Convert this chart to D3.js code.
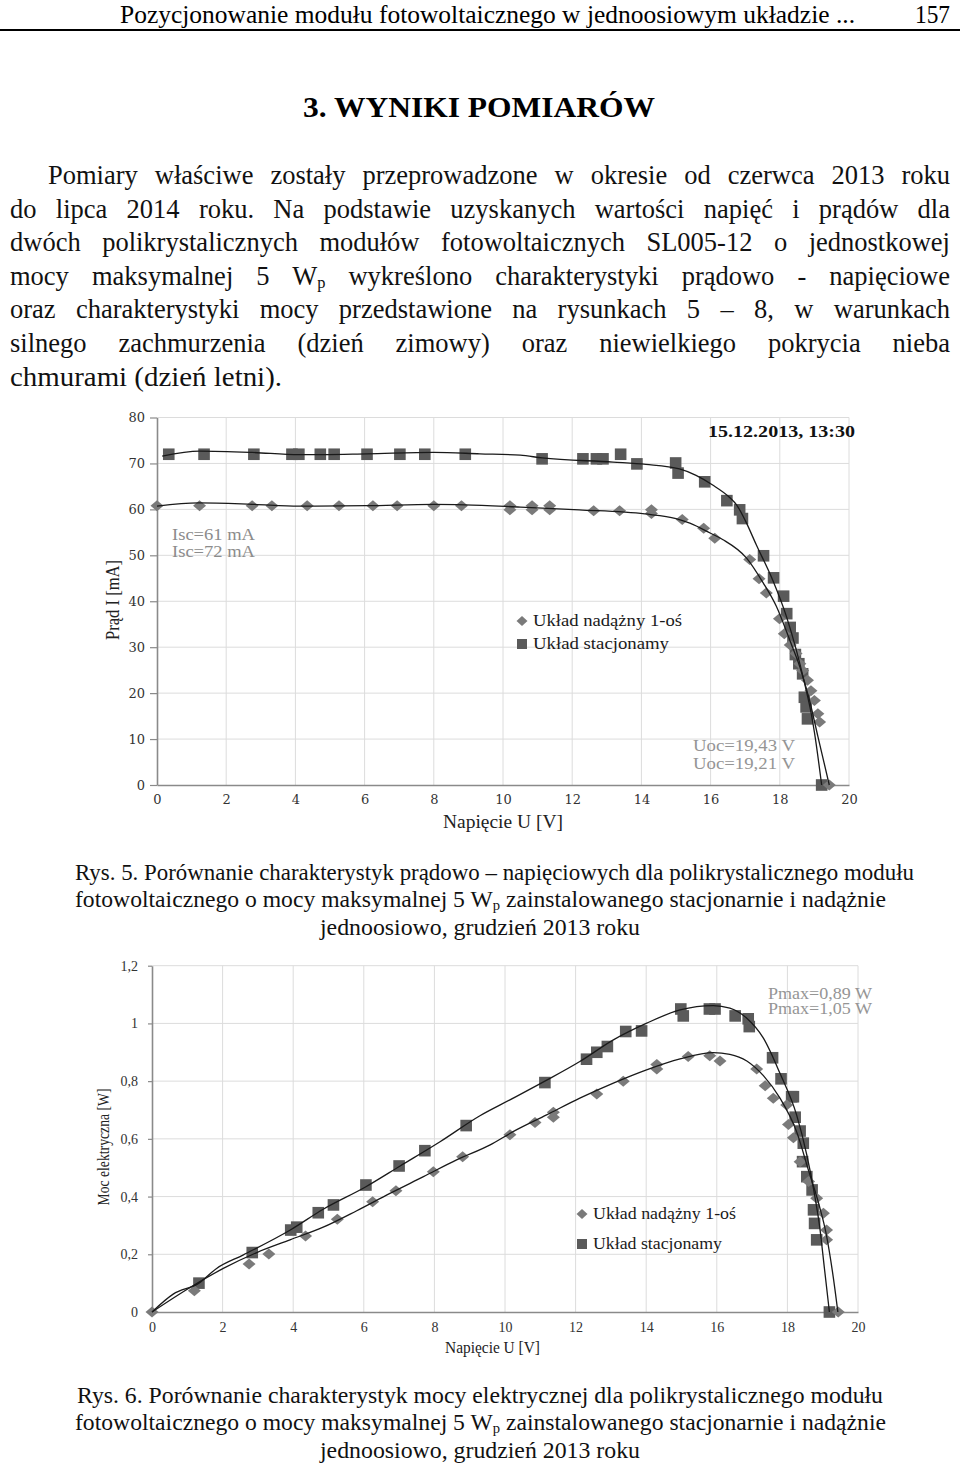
<!DOCTYPE html>
<html><head><meta charset="utf-8">
<script src="https://cdn.jsdelivr.net/npm/d3@7"></script>
<style>body{margin:0;background:#fff} svg{display:block}</style>
</head><body>
<svg id="page" width="960" height="1465"></svg>
<script>
// ---------- DATA ----------
// Rys. 5: current-voltage (U [V], I [mA])
const ivTracking = [[0,60.8],[1.23,60.8],[2.75,60.8],[3.32,60.8],[4.34,60.8],[5.26,60.8],[6.24,60.8],[6.94,60.8],[8.0,60.8],[8.8,60.8],[10.2,60.8],[10.2,59.9],[10.84,60.8],[10.84,59.9],[11.35,60.8],[11.35,59.9],[12.62,59.7],[13.37,59.7],[14.29,59.9],[14.29,59.1],[15.18,57.8],[15.8,55.9],[16.12,53.7],[17.13,49.1],[17.4,44.9],[17.61,41.8],[17.99,36.2],[18.13,32.9],[18.3,30.5],[18.47,28.6],[18.58,26.4],[18.66,24.9],[18.8,22.8],[18.9,20.5],[19.0,18.4],[19.1,15.5],[19.15,13.7],[19.43,0]];
const ivStationary = [[0.34,72.0],[1.36,72.0],[2.8,72.0],[3.9,72.0],[4.1,72.0],[4.72,72.0],[5.12,72.0],[6.07,72.0],[7.02,72.0],[7.74,72.0],[8.91,72.0],[11.13,71.0],[12.31,71.0],[12.7,71.0],[12.89,71.0],[13.4,72.0],[13.87,69.9],[14.99,70.1],[15.06,67.9],[15.83,66.0],[16.47,61.9],[16.84,59.9],[16.92,58.0],[17.53,49.9],[17.82,45.1],[18.11,41.1],[18.2,37.3],[18.3,34.3],[18.38,32.0],[18.45,28.4],[18.55,26.4],[18.66,24.2],[18.71,19.1],[18.76,17.0],[18.8,14.4],[19.21,0]];
const ivTrackingTrend = [[0,60.7],[1.2,61.4],[2.75,61.1],[4.1,60.7],[6.07,60.8],[8.0,61.1],[8.9,61.0],[10.5,60.5],[12.2,59.9],[14.1,59.0],[15.0,58.0],[15.4,57.0],[16.0,54.8],[16.36,53.4],[17.04,49.4],[17.52,44.0],[17.9,38.9],[18.29,31.5],[18.58,25.7],[18.86,18.4],[19.1,10.6],[19.43,0]];
const ivStationaryTrend = [[0.15,71.6],[1.23,72.7],[2.75,72.4],[4.1,71.9],[6.07,72.1],[8.0,72.4],[9.33,72.1],[10.5,71.8],[11.13,71.2],[13.18,70.3],[14.13,69.8],[15.1,68.8],[15.58,67.4],[16.06,65.3],[16.55,62.6],[16.75,61.0],[17.0,57.6],[17.32,52.3],[17.8,44.5],[18.2,36.5],[18.48,29.3],[18.72,22.0],[18.91,15.5],[19.0,11.5],[19.21,0]];
const ivTicksX = [0,2,4,6,8,10,12,14,16,18,20];
const ivTicksY = [0,10,20,30,40,50,60,70,80];

// Rys. 6: power-voltage (U [V], P [W])
const pvTracking = [[0,0],[1.2,0.074],[2.75,0.166],[3.31,0.201],[4.35,0.263],[5.25,0.321],[6.25,0.382],[6.91,0.42],[7.97,0.486],[8.8,0.538],[10.14,0.614],[10.85,0.657],[11.37,0.692],[11.37,0.675],[12.6,0.755],[13.35,0.80],[14.3,0.842],[14.3,0.858],[15.19,0.885],[15.8,0.888],[16.09,0.87],[17.13,0.842],[17.37,0.784],[17.6,0.741],[17.98,0.717],[18.03,0.65],[18.17,0.604],[18.36,0.521],[18.6,0.452],[18.83,0.394],[19.02,0.342],[19.11,0.284],[19.11,0.25],[19.44,0]];
const pvStationary = [[1.33,0.1],[2.84,0.206],[3.93,0.284],[4.1,0.294],[4.71,0.344],[5.14,0.371],[6.06,0.44],[7.0,0.506],[7.73,0.559],[8.9,0.646],[11.13,0.795],[12.31,0.876],[12.6,0.9],[12.9,0.92],[13.42,0.972],[13.87,0.974],[14.98,1.05],[15.05,1.026],[15.79,1.05],[15.95,1.05],[16.52,1.026],[16.89,1.016],[16.92,0.989],[17.58,0.881],[17.82,0.808],[18.12,0.746],[18.17,0.746],[18.22,0.675],[18.36,0.627],[18.45,0.585],[18.43,0.521],[18.55,0.469],[18.7,0.423],[18.74,0.354],[18.77,0.307],[18.83,0.25],[19.19,0]];
const pvTrackingTrend = [[0,0],[1.08,0.085],[2.02,0.151],[2.97,0.206],[3.91,0.25],[4.85,0.294],[5.8,0.351],[6.74,0.411],[7.69,0.469],[8.63,0.527],[9.58,0.579],[10.23,0.625],[11.18,0.683],[12.12,0.741],[13.07,0.793],[14.01,0.839],[14.96,0.877],[15.9,0.899],[16.37,0.893],[16.85,0.87],[17.32,0.819],[17.79,0.741],[18.26,0.625],[18.6,0.49],[18.9,0.37],[19.1,0.27],[19.3,0.12],[19.43,0]];
const pvStationaryTrend = [[0,0],[0.6,0.062],[1.33,0.1],[1.83,0.151],[2.59,0.198],[3.93,0.285],[4.85,0.356],[6.06,0.434],[7.03,0.506],[8.16,0.59],[9.29,0.68],[10.14,0.735],[11.13,0.8],[12.12,0.868],[13.07,0.943],[14.0,1.0],[14.96,1.047],[15.9,1.062],[16.37,1.053],[16.85,1.018],[17.32,0.949],[17.79,0.827],[18.26,0.683],[18.55,0.544],[18.75,0.42],[18.92,0.29],[19.05,0.15],[19.19,0]];
const pvTicksX = [0,2,4,6,8,10,12,14,16,18,20];
const pvTicksY = [0,0.2,0.4,0.6,0.8,1,1.2];
const pvTickLabelsY = ["0","0,2","0,4","0,6","0,8","1","1,2"];

const legendLabels = ["Układ nadążny 1-oś","Układ stacjonamy"];

// ---------- FONT PICK ----------
function hasFont(name){
  const c = document.createElement('canvas').getContext('2d');
  const s = 'abcdefghijklmnopqrstuvwxyzWMąęłó0123456789';
  c.font = '40px monospace'; const a = c.measureText(s).width;
  c.font = `40px "${name}", monospace`; const b = c.measureText(s).width;
  return Math.abs(a-b) > 0.5;
}
const serifName = ['Liberation Serif','Tinos','Times New Roman','Nimbus Roman','DejaVu Serif Condensed'].find(hasFont) || 'DejaVu Serif';
const SERIF = `"${serifName}", serif`;
const TICK1 = hasFont('DejaVu Serif') ? '"DejaVu Serif", serif' : SERIF;

// ---------- PAGE ----------
const svg = d3.select('#page');
svg.append('rect').attr('width',960).attr('height',1465).attr('fill','#fff');

function T(parent, x, y, size, family){
  return parent.append('text').attr('x',x).attr('y',y).style('font-family',family||SERIF).style('font-size',size+'px');
}
function fitText(sel, width){
  sel.attr('textLength', width).attr('lengthAdjust','spacingAndGlyphs');
  return sel;
}
function justify(sel, width){
  const node = sel.node();
  const w = node.getComputedTextLength();
  const n = (node.textContent.match(/ /g)||[]).length;
  if (n>0 && w < width) sel.style('word-spacing', ((width - w)/n)+'px');
  else fitText(sel, width);
}

// header
fitText(T(svg,120,23,25).text('Pozycjonowanie modułu fotowoltaicznego w jednoosiowym układzie ...'), 735);
fitText(T(svg,915,23,25).text('157'), 35);
svg.append('line').attr('x1',0).attr('x2',960).attr('y1',30).attr('y2',30).attr('stroke','#000').attr('stroke-width',2);

fitText(T(svg,303,117,29).style('font-weight','bold').text('3. WYNIKI POMIARÓW'), 352);

// body paragraph
const bodyLines = [
  {x:48, y:184, w:902, t:'Pomiary właściwe zostały przeprowadzone w okresie od czerwca 2013 roku'},
  {x:10, y:218, w:940, t:'do lipca 2014 roku. Na podstawie uzyskanych wartości napięć i prądów dla'},
  {x:10, y:251, w:940, t:'dwóch polikrystalicznych modułów fotowoltaicznych SL005-12 o jednostkowej'},
  {x:10, y:285, w:940, sub:['mocy maksymalnej 5 W','p',' wykreślono charakterystyki prądowo - napięciowe']},
  {x:10, y:318, w:940, t:'oraz charakterystyki mocy przedstawione na rysunkach 5 – 8, w warunkach'},
  {x:10, y:352, w:940, t:'silnego zachmurzenia (dzień zimowy) oraz niewielkiego pokrycia nieba'},
  {x:10, y:386, w:272, t:'chmurami (dzień letni).', last:true}
];
function subText(sel, parts, fs){
  sel.append('tspan').text(parts[0]);
  sel.append('tspan').style('font-size',(fs*0.62)+'px').attr('dy',fs*0.12).text(parts[1]);
  sel.append('tspan').attr('dy',-fs*0.12).text(parts[2]);
}
bodyLines.forEach(l=>{
  const t = T(svg,l.x,l.y,26.5).attr('fill','#111');
  if (l.sub) subText(t, l.sub, 26.5); else t.text(l.t);
  if (l.last) fitText(t, l.w); else justify(t, l.w);
});

// captions
function caption(lines){
  lines.forEach(l=>{
    const t = T(svg,l.x,l.y,23).attr('fill','#111');
    if (l.sub) subText(t, l.sub, 23); else t.text(l.t);
    fitText(t, l.w);
  });
}
caption([
  {x:75, y:880, w:839, t:'Rys. 5. Porównanie charakterystyk prądowo – napięciowych dla polikrystalicznego modułu'},
  {x:75, y:907, w:811, sub:['fotowoltaicznego o mocy maksymalnej 5 W','p',' zainstalowanego stacjonarnie i nadążnie']},
  {x:320, y:935, w:320, t:'jednoosiowo, grudzień 2013 roku'}
]);
caption([
  {x:77, y:1403, w:806, t:'Rys. 6. Porównanie charakterystyk mocy elektrycznej dla polikrystalicznego modułu'},
  {x:75, y:1430, w:811, sub:['fotowoltaicznego o mocy maksymalnej 5 W','p',' zainstalowanego stacjonarnie i nadążnie']},
  {x:320, y:1458, w:320, t:'jednoosiowo, grudzień 2013 roku'}
]);

// ---------- CHART HELPERS ----------
function diamondPath(w,h){ return `M0,${-h}L${w},0L0,${h}L${-w},0Z`; }

function drawChart(c){
  const g = svg.append('g');
  const x = d3.scaleLinear().domain([0,20]).range([c.left,c.right]);
  const y = d3.scaleLinear().domain(c.yDomain).range([c.bottom,c.top]);
  // grid
  g.append('g').selectAll('line').data(c.ticksY.filter(v=>v!==c.yDomain[0])).join('line')
    .attr('x1',c.left).attr('x2',c.right).attr('y1',d=>y(d)).attr('y2',d=>y(d))
    .attr('stroke','#dcdcdc').attr('stroke-width',1);
  g.append('g').selectAll('line').data(c.ticksX.filter(v=>v!==0)).join('line')
    .attr('x1',d=>x(d)).attr('x2',d=>x(d)).attr('y1',c.top).attr('y2',c.bottom)
    .attr('stroke','#dcdcdc').attr('stroke-width',1);
  // axes
  const ay = g.append('g').attr('transform',`translate(${c.left},0)`)
    .call(d3.axisLeft(y).tickValues(c.ticksY).tickSize(c.ytick).tickSizeOuter(0).tickPadding(c.ypad)
      .tickFormat((d,i)=>c.yLabels ? c.yLabels[i] : d));
  const ax = g.append('g').attr('transform',`translate(0,${c.bottom})`)
    .call(d3.axisBottom(x).tickValues(c.ticksX).tickSize(c.xtick).tickSizeOuter(0).tickPadding(c.xpad));
  [ax,ay].forEach(a=>{
    a.select('.domain').attr('stroke','#8a8a8a').attr('stroke-width',1.6);
    a.selectAll('.tick line').attr('stroke','#8a8a8a').attr('stroke-width',1.2);
    a.selectAll('.tick text').style('font-family',c.tickFont).style('font-size',c.tickSize+'px').attr('fill','#333');
  });
  // markers
  g.append('g').selectAll('rect').data(c.stationary).join('rect')
    .attr('x',d=>x(d[0])-5.8).attr('y',d=>y(d[1])-5.8).attr('width',11.6).attr('height',11.6).attr('fill','#5a5a5a');
  g.append('g').selectAll('path').data(c.tracking).join('path')
    .attr('d',diamondPath(6.5,5.5)).attr('transform',d=>`translate(${x(d[0])},${y(d[1])})`).attr('fill','#7a7a7a');
  // trend lines
  const line = d3.line().x(d=>x(d[0])).y(d=>y(d[1])).curve(d3.curveMonotoneX);
  [c.trackingTrend, c.stationaryTrend].forEach(tr=>{
    g.append('path').datum(tr).attr('d',line).attr('fill','none').attr('stroke','#1a1a1a').attr('stroke-width',1.3);
  });
  // legend
  const lg = g.append('g');
  lg.append('path').attr('d',diamondPath(5.5,5)).attr('transform',`translate(${c.legX},${c.legY})`).attr('fill','#7a7a7a');
  lg.append('rect').attr('x',c.legX-5).attr('y',c.legY+c.legGap-5).attr('width',10).attr('height',10).attr('fill','#5a5a5a');
  legendLabels.forEach((t,i)=>{
    fitText(T(lg,c.legX+11,c.legY+5+i*c.legGap,16).attr('fill','#1a1a1a').text(t), c.legW[i]);
  });
  return {g,x,y};
}

// ---------- RYS. 5 ----------
drawChart({left:157,right:849,top:417.5,bottom:785,yDomain:[0,80],ticksX:ivTicksX,ticksY:ivTicksY,
  ytick:7,ypad:5,xtick:0,xpad:10,tickFont:TICK1,tickSize:13,
  stationary:ivStationary,tracking:ivTracking,trackingTrend:ivTrackingTrend,stationaryTrend:ivStationaryTrend,
  legX:522,legY:621,legGap:23,legW:[149,136]});
fitText(T(svg,0,0,18).attr('transform','translate(119,600) rotate(-90)').attr('text-anchor','middle')
  .attr('fill','#222').text('Prąd I [mA]'), 80);
fitText(T(svg,443,828,18).attr('fill','#222').text('Napięcie  U [V]'), 120);
fitText(T(svg,708,437,17).style('font-weight','bold').attr('fill','#111').text('15.12.2013, 13:30'), 147);
[['Isc=61 mA',540],['Isc=72 mA',557]].forEach(([t,yy])=>fitText(T(svg,172,yy,16).attr('fill','#8c8c8c').text(t), 83));
[['Uoc=19,43 V',751],['Uoc=19,21 V',769]].forEach(([t,yy])=>fitText(T(svg,693,yy,16).attr('fill','#959595').text(t), 102));

// ---------- RYS. 6 ----------
drawChart({left:152,right:858,top:965.7,bottom:1312,yDomain:[0,1.2],ticksX:pvTicksX,ticksY:pvTicksY,yLabels:pvTickLabelsY,
  ytick:4,ypad:10,xtick:0,xpad:10,tickFont:SERIF,tickSize:14,
  stationary:pvStationary,tracking:pvTracking,trackingTrend:pvTrackingTrend,stationaryTrend:pvStationaryTrend,
  legX:582,legY:1214,legGap:30,legW:[143,129]});
fitText(T(svg,0,0,17).attr('transform','translate(109,1147) rotate(-90)').attr('text-anchor','middle')
  .attr('fill','#222').text('Moc elektryczna  [W]'), 117);
fitText(T(svg,445,1353,16).attr('fill','#222').text('Napięcie  U [V]'), 95);
[['Pmax=0,89 W',999],['Pmax=1,05 W',1014]].forEach(([t,yy])=>fitText(T(svg,768,yy,16).attr('fill','#959595').text(t), 104));
</script>
</body></html>
